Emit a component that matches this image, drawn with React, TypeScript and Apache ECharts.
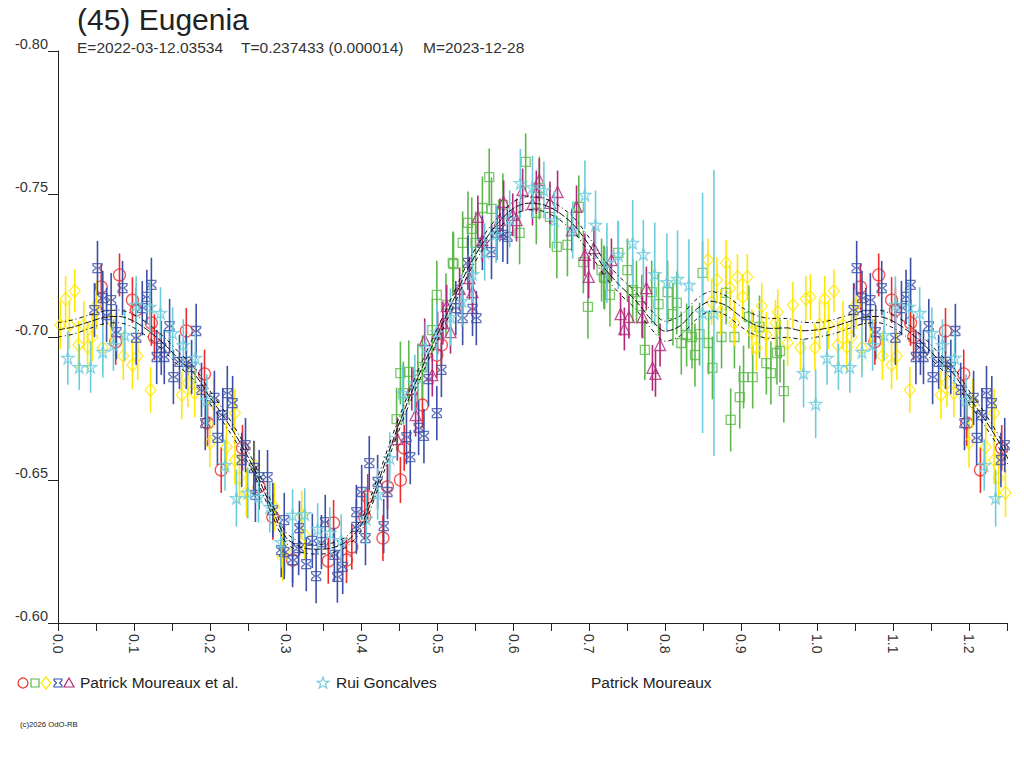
import React, { useEffect, useRef } from "react";
import * as echarts from "echarts";

// ---- data: [phase, magnitude, error] ----
const RED_CIRCLES = [
  [0.057, -0.7175, 0.008], [0.076, -0.6983, 0.008], [0.081, -0.7217, 0.0075], [0.098, -0.7129, 0.008],
  [0.103, -0.7094, 0.008], [0.123, -0.7049, 0.008], [0.127, -0.7, 0.008], [0.169, -0.7021, 0.008],
  [0.193, -0.6871, 0.0085], [0.197, -0.6699, 0.008], [0.215, -0.6535, 0.008], [0.243, -0.6612, 0.008],
  [0.265, -0.6476, 0.008], [0.283, -0.6371, 0.008], [0.309, -0.622, 0.008], [0.356, -0.6217, 0.008],
  [0.363, -0.635, 0.008], [0.38, -0.622, 0.008], [0.387, -0.6266, 0.008], [0.404, -0.6371, 0.008],
  [0.408, -0.6441, 0.008], [0.428, -0.6297, 0.008], [0.434, -0.6476, 0.008], [0.451, -0.65, 0.008],
  [0.456, -0.6612, 0.008], [0.48, -0.6762, 0.008], [0.499, -0.6937, 0.008], [0.505, -0.6972, 0.008],
];

const GREEN_SQUARES = [
  [0.446, -0.6713, 0.011], [0.451, -0.6874, 0.011], [0.455, -0.6804, 0.011], [0.462, -0.6878, 0.011],
  [0.474, -0.6867, 0.011], [0.48, -0.6895, 0.011], [0.493, -0.7024, 0.011], [0.499, -0.7147, 0.012],
  [0.511, -0.7112, 0.011], [0.52, -0.7259, 0.011], [0.521, -0.7255, 0.011], [0.533, -0.7329, 0.011],
  [0.54, -0.7399, 0.011], [0.545, -0.7378, 0.011], [0.55, -0.7329, 0.011], [0.559, -0.7451, 0.011],
  [0.568, -0.7559, 0.01], [0.571, -0.7448, 0.011], [0.586, -0.7462, 0.011], [0.608, -0.7364, 0.011],
  [0.616, -0.7612, 0.01], [0.63, -0.7434, 0.011], [0.634, -0.7521, 0.011], [0.648, -0.742, 0.011],
  [0.657, -0.7315, 0.011], [0.671, -0.7322, 0.011], [0.686, -0.7455, 0.011], [0.692, -0.7262, 0.011],
  [0.698, -0.7105, 0.011], [0.716, -0.7234, 0.011], [0.719, -0.721, 0.011], [0.72, -0.7206, 0.011],
  [0.727, -0.7147, 0.011], [0.738, -0.7294, 0.011], [0.75, -0.7234, 0.011], [0.757, -0.7164, 0.011],
  [0.762, -0.7157, 0.011], [0.769, -0.7108, 0.011], [0.773, -0.6955, 0.0105], [0.782, -0.7157, 0.011],
  [0.791, -0.7115, 0.011], [0.803, -0.7157, 0.011], [0.81, -0.708, 0.011], [0.815, -0.7119, 0.011],
  [0.821, -0.6979, 0.011], [0.828, -0.7007, 0.011], [0.835, -0.7, 0.011], [0.839, -0.6937, 0.011],
  [0.845, -0.701, 0.011], [0.849, -0.7224, 0.011], [0.857, -0.6979, 0.011], [0.862, -0.6892, 0.011],
  [0.874, -0.7, 0.011], [0.88, -0.7154, 0.011], [0.886, -0.671, 0.011], [0.891, -0.7, 0.011],
  [0.898, -0.679, 0.011], [0.903, -0.686, 0.011], [0.91, -0.707, 0.011], [0.915, -0.686, 0.011],
  [0.924, -0.7035, 0.011], [0.933, -0.6909, 0.011], [0.939, -0.6874, 0.011], [0.947, -0.6944, 0.011],
  [0.951, -0.6951, 0.011], [0.956, -0.6811, 0.011],
];

const YELLOW_DIAMONDS = [
  [0.003, -0.7042, 0.0085], [0.01, -0.7133, 0.008], [0.015, -0.7042, 0.0085], [0.022, -0.7161, 0.0075],
  [0.027, -0.6972, 0.0085], [0.034, -0.7042, 0.0085], [0.039, -0.6965, 0.0085], [0.045, -0.7, 0.0085],
  [0.051, -0.7112, 0.0085], [0.059, -0.6962, 0.0085], [0.07, -0.7059, 0.0085], [0.086, -0.6934, 0.0085],
  [0.098, -0.6902, 0.0085], [0.105, -0.6934, 0.0085], [0.122, -0.6815, 0.008], [0.163, -0.6797, 0.0085],
  [0.171, -0.6839, 0.0085], [0.18, -0.6804, 0.0085], [0.2, -0.6629, 0.0085], [0.205, -0.6769, 0.0085],
  [0.222, -0.6615, 0.0085], [0.233, -0.657, 0.0085], [0.233, -0.6734, 0.0085], [0.239, -0.6507, 0.0085],
  [0.248, -0.6455, 0.0085], [0.259, -0.6552, 0.0085], [0.285, -0.6406, 0.0085],
  [0.296, -0.6231, 0.0085], [0.299, -0.6255, 0.0085], [0.321, -0.6378, 0.0085], [0.325, -0.6308, 0.0085],
  [0.856, -0.7269, 0.0075], [0.861, -0.7122, 0.008], [0.868, -0.7199, 0.008], [0.873, -0.7087, 0.008],
  [0.88, -0.7259, 0.008], [0.885, -0.7171, 0.008], [0.891, -0.7049, 0.008], [0.895, -0.721, 0.008],
  [0.902, -0.714, 0.008], [0.908, -0.721, 0.008], [0.914, -0.7017, 0.008], [0.92, -0.6962, 0.008],
  [0.927, -0.7108, 0.008], [0.933, -0.7007, 0.008], [0.945, -0.7049, 0.008], [0.948, -0.7087, 0.008],
  [0.961, -0.6979, 0.008], [0.968, -0.7112, 0.008], [0.978, -0.6962, 0.008], [0.985, -0.7133, 0.008],
  [0.991, -0.714, 0.008], [0.997, -0.6962, 0.008],
];

const BLUE_BOWTIES = [
  [0.048, -0.7094, 0.0095], [0.052, -0.7241, 0.0095], [0.059, -0.7136, 0.0095], [0.064, -0.7077, 0.0095],
  [0.07, -0.7129, 0.0095], [0.077, -0.7017, 0.0095], [0.085, -0.7171, 0.0095], [0.103, -0.6997, 0.0095],
  [0.111, -0.7101, 0.0095], [0.117, -0.714, 0.0095], [0.123, -0.7182, 0.0095], [0.13, -0.693, 0.0095],
  [0.136, -0.6962, 0.0095], [0.14, -0.693, 0.0095], [0.147, -0.7038, 0.0095], [0.152, -0.686, 0.0095],
  [0.16, -0.6913, 0.0095], [0.169, -0.6913, 0.0095], [0.176, -0.6895, 0.0095], [0.182, -0.7021, 0.0095],
  [0.189, -0.6815, 0.0095], [0.194, -0.6699, 0.0095], [0.206, -0.6787, 0.0095], [0.21, -0.6647, 0.0095],
  [0.217, -0.6727, 0.0095], [0.223, -0.6804, 0.0095], [0.23, -0.6769, 0.0095], [0.242, -0.657, 0.0095],
  [0.247, -0.6622, 0.0095], [0.258, -0.6542, 0.0095], [0.26, -0.6448, 0.0095], [0.265, -0.651, 0.0095],
  [0.276, -0.651, 0.0095], [0.283, -0.6395, 0.0095], [0.294, -0.6255, 0.0095], [0.298, -0.636, 0.0095],
  [0.298, -0.6248, 0.0095], [0.309, -0.622, 0.0095], [0.317, -0.6262, 0.0095], [0.318, -0.6332, 0.0095],
  [0.327, -0.6206, 0.0095], [0.335, -0.6287, 0.0095], [0.34, -0.6164, 0.0095], [0.347, -0.6283, 0.0095],
  [0.352, -0.6353, 0.0095], [0.364, -0.6238, 0.0095], [0.368, -0.6161, 0.009], [0.375, -0.6196, 0.0095],
  [0.393, -0.6336, 0.0095], [0.393, -0.6388, 0.0095], [0.4, -0.6458, 0.0095], [0.405, -0.6297, 0.0095],
  [0.41, -0.6559, 0.0095], [0.421, -0.6493, 0.0095], [0.429, -0.6339, 0.0095], [0.434, -0.6458, 0.0095],
  [0.459, -0.665, 0.0095], [0.464, -0.658, 0.0095], [0.475, -0.6682, 0.0095], [0.482, -0.6654, 0.0095],
  [0.488, -0.6853, 0.0095], [0.499, -0.6734, 0.0095], [0.505, -0.6885, 0.0095], [0.524, -0.7101, 0.0095],
  [0.533, -0.7066, 0.0095], [0.54, -0.7259, 0.0095], [0.546, -0.7098, 0.0095], [0.551, -0.7066, 0.0095],
  [0.559, -0.7329, 0.0095], [0.571, -0.7297, 0.0095], [0.578, -0.7364, 0.0095], [0.586, -0.7357, 0.0095],
  [0.592, -0.735, 0.0095],
];

const MAGENTA_TRIANGLES = [
  [0.447, -0.6643, 0.0075], [0.466, -0.6818, 0.0075], [0.471, -0.6727, 0.0075], [0.483, -0.699, 0.0075],
  [0.493, -0.6867, 0.0075], [0.5, -0.7014, 0.0075], [0.507, -0.7049, 0.0075], [0.512, -0.7108, 0.0075],
  [0.517, -0.7017, 0.0075], [0.529, -0.7168, 0.0075], [0.542, -0.7206, 0.0075], [0.546, -0.7157, 0.0075],
  [0.553, -0.742, 0.0075], [0.559, -0.7339, 0.0075], [0.582, -0.7409, 0.0075], [0.587, -0.7472, 0.0075],
  [0.599, -0.7427, 0.0075], [0.604, -0.7409, 0.0075], [0.612, -0.7514, 0.0075], [0.625, -0.7465, 0.0075],
  [0.63, -0.7507, 0.0075], [0.634, -0.7549, 0.0075], [0.648, -0.7469, 0.0075], [0.658, -0.7507, 0.0075],
  [0.677, -0.7374, 0.0075], [0.683, -0.7455, 0.0075], [0.694, -0.7287, 0.0075], [0.699, -0.721, 0.0075],
  [0.706, -0.7311, 0.0075], [0.723, -0.7241, 0.0075], [0.729, -0.7269, 0.0075], [0.741, -0.708, 0.0075],
  [0.746, -0.7028, 0.0075], [0.752, -0.707, 0.0075], [0.77, -0.707, 0.0075], [0.775, -0.7171, 0.0075],
  [0.783, -0.6892, 0.008], [0.787, -0.6871, 0.008], [0.793, -0.6972, 0.0075],
];

const CYAN_STARS = [
  [0.013, -0.6927, 0.0094], [0.028, -0.6895, 0.008], [0.043, -0.6895, 0.009], [0.059, -0.6948, 0.009],
  [0.073, -0.6972, 0.009], [0.088, -0.7007, 0.009], [0.103, -0.7112, 0.01], [0.121, -0.7105, 0.009],
  [0.135, -0.7084, 0.009], [0.151, -0.7014, 0.009], [0.165, -0.6972, 0.009], [0.181, -0.6927, 0.009],
  [0.196, -0.678, 0.009], [0.22, -0.6552, 0.009], [0.235, -0.6437, 0.01], [0.25, -0.6455, 0.009],
  [0.264, -0.6441, 0.009], [0.279, -0.6406, 0.009], [0.294, -0.6283, 0.009], [0.309, -0.6378, 0.009],
  [0.325, -0.6381, 0.009], [0.342, -0.6329, 0.009], [0.358, -0.6315, 0.009], [0.373, -0.629, 0.009],
  [0.406, -0.6364, 0.009], [0.421, -0.6451, 0.009], [0.437, -0.6577, 0.009], [0.454, -0.6804, 0.01],
  [0.47, -0.6839, 0.01], [0.484, -0.6962, 0.009], [0.499, -0.7017, 0.01], [0.517, -0.707, 0.01],
  [0.532, -0.7126, 0.009], [0.546, -0.722, 0.01], [0.562, -0.7297, 0.01], [0.577, -0.736, 0.01],
  [0.595, -0.7413, 0.01], [0.609, -0.7538, 0.012], [0.625, -0.7524, 0.011], [0.64, -0.7514, 0.01],
  [0.654, -0.7409, 0.01], [0.678, -0.7374, 0.01], [0.694, -0.7497, 0.012], [0.708, -0.7392, 0.012],
  [0.723, -0.7259, 0.014], [0.738, -0.7287, 0.012], [0.757, -0.7329, 0.015], [0.771, -0.729, 0.012],
  [0.786, -0.722, 0.018], [0.802, -0.7192, 0.017], [0.816, -0.7203, 0.017], [0.831, -0.7182, 0.016],
  [0.849, -0.7084, 0.042], [0.864, -0.7084, 0.05], [0.982, -0.6874, 0.012], [0.998, -0.6766, 0.012],
];

// fitted curve
const CURVE_PHASE = [
  0.0, 0.02, 0.04, 0.06, 0.08, 0.1, 0.12, 0.14, 0.16, 0.18, 0.2, 0.22, 0.24, 0.26, 0.28, 0.3, 0.32, 0.34,
  0.36, 0.38, 0.4, 0.42, 0.44, 0.46, 0.48, 0.5, 0.52, 0.54, 0.56, 0.58, 0.6, 0.62, 0.64, 0.66, 0.68, 0.7,
  0.72, 0.74, 0.76, 0.78, 0.8, 0.82, 0.84, 0.86, 0.88, 0.9, 0.92, 0.94, 0.96, 0.98, 1.0,
];
const CURVE_MAG = [
  -0.7025, -0.7035, -0.7052, -0.7068, -0.7072, -0.7055, -0.702, -0.6975, -0.692, -0.687, -0.679, -0.6715,
  -0.663, -0.653, -0.641, -0.63, -0.6265, -0.6258, -0.6262, -0.6285, -0.6345, -0.648, -0.663, -0.677,
  -0.6895, -0.701, -0.7125, -0.724, -0.733, -0.74, -0.745, -0.7468, -0.7462, -0.7435, -0.739, -0.732,
  -0.724, -0.718, -0.713, -0.7065, -0.702, -0.704, -0.7095, -0.7125, -0.711, -0.707, -0.704, -0.703,
  -0.7032, -0.7022, -0.7025,
];
const CURVE_ERR = [
  0.0025, 0.0025, 0.0024, 0.0022, 0.0022, 0.0023, 0.0024, 0.0024, 0.0024, 0.0023, 0.0022, 0.0022,
  0.0021, 0.002, 0.002, 0.0018, 0.0017, 0.0017, 0.0017, 0.0018, 0.002, 0.0021, 0.0022, 0.0022,
  0.0022, 0.0022, 0.0022, 0.0022, 0.0022, 0.0022, 0.0023, 0.0023, 0.0023, 0.0024, 0.0025, 0.0026,
  0.0027, 0.0029, 0.003, 0.0032, 0.0035, 0.0035, 0.0035, 0.0034, 0.0034, 0.0035, 0.0035, 0.0035,
  0.0033, 0.003, 0.0025,
];

const Y_MIN = -0.8;
const Y_MAX = -0.6;
const X_MAX = 1.25;

const OBSERVER_1 = "Patrick Moureaux et al.";
const OBSERVER_2 = "Rui Goncalves";
const OBSERVER_3 = "Patrick Moureaux";

const C_RED = "#ef2b2b";
const C_GREEN = "#5cb84a";
const C_YELLOW = "#ffe800";
const C_BLUE = "#3b4fa8";
const C_MAGENTA = "#b0287a";
const C_CYAN = "#6ccbdc";

const STAR = "path://M5,0 L6.2,3.6 L10,3.6 L6.9,5.8 L8.1,9.5 L5,7.2 L1.9,9.5 L3.1,5.8 L0,3.6 L3.8,3.6 Z";
const BOWTIE = "path://M0,0 L10,0 L10,2 L6.5,5 L10,8 L10,10 L0,10 L0,8 L3.5,5 L0,2 Z";

const FONT = "Liberation Sans, Arial, sans-serif";

function wrapPhase(arr: number[][]) {
  return arr.concat(arr.filter((d) => d[0] < X_MAX - 1).map((d) => [d[0] + 1, d[1], d[2]]));
}

function curveSeries(offset: number) {
  const pts: number[][] = CURVE_PHASE.map((p, i) => [p, CURVE_MAG[i] + offset * CURVE_ERR[i]]);
  CURVE_PHASE.forEach((p, i) => {
    if (p > 0 && p <= 0.26) pts.push([p + 1, CURVE_MAG[i] + offset * CURVE_ERR[i]]);
  });
  return pts;
}

export default function App() {
  const ref = useRef<HTMLDivElement>(null);

  useEffect(() => {
    if (!ref.current) return;
    const chart = echarts.init(ref.current, null, { renderer: "svg" });

    const groups = [
      { name: "red", data: RED_CIRCLES, color: C_RED, symbol: "circle", size: 12 },
      { name: "green", data: GREEN_SQUARES, color: C_GREEN, symbol: "rect", size: 9 },
      { name: "yellow", data: YELLOW_DIAMONDS, color: C_YELLOW, symbol: "diamond", size: [11, 13] },
      { name: "blue", data: BLUE_BOWTIES, color: C_BLUE, symbol: BOWTIE, size: 9 },
      { name: "magenta", data: MAGENTA_TRIANGLES, color: C_MAGENTA, symbol: "triangle", size: 11 },
      { name: "cyan", data: CYAN_STARS, color: C_CYAN, symbol: STAR, size: 12 },
    ];

    const series: any[] = [];
    groups.forEach((g, gi) => {
      const d = wrapPhase(g.data);
      series.push({
        type: "custom",
        name: g.name + "-err",
        data: d,
        encode: { x: 0, y: 1 },
        clip: true,
        z: 2 + gi * 2,
        silent: true,
        renderItem: (params: any, api: any) => {
          const x = api.value(0);
          const y = api.value(1);
          const e = api.value(2);
          const p1 = api.coord([x, y - e]);
          const p2 = api.coord([x, y + e]);
          return {
            type: "line",
            shape: { x1: p1[0], y1: p1[1], x2: p2[0], y2: p2[1] },
            style: { stroke: g.color, lineWidth: 1.6 },
          };
        },
      });
      series.push({
        type: "scatter",
        name: g.name,
        data: d.map((v) => [v[0], v[1]]),
        symbol: g.symbol,
        symbolSize: g.size,
        z: 3 + gi * 2,
        silent: true,
        itemStyle: { color: "rgba(0,0,0,0)", borderColor: g.color, borderWidth: 1.3 },
      });
    });

    [
      { off: 0, type: [7, 2] },
      { off: -1, type: [4, 3, 1, 3] },
      { off: 1, type: [4, 3, 1, 3] },
    ].forEach((c) => {
      series.push({
        type: "line",
        data: curveSeries(c.off),
        showSymbol: false,
        smooth: 0.3,
        clip: true,
        z: 20,
        silent: true,
        lineStyle: { color: "#111", width: 1, type: c.type },
      });
    });

    const legendY = 683;
    const legendText = { fontSize: 15.5, fontFamily: FONT, fill: "#222", verticalAlign: "top" };

    chart.setOption({
      animation: false,
      backgroundColor: "#fff",
      grid: { left: 58, right: 17, top: 51, bottom: 145, containLabel: false },
      xAxis: {
        type: "value",
        min: 0,
        max: X_MAX,
        interval: 0.05,
        axisLine: { lineStyle: { color: "#222", width: 1 } },
        axisTick: { length: 8, lineStyle: { color: "#222" } },
        splitLine: { show: false },
        axisLabel: {
          rotate: -90,
          margin: 11,
          fontSize: 14,
          fontFamily: FONT,
          color: "#333",
          padding: [0, 0, 9, 0],
          formatter: (v: number) => (Math.round(v * 100) % 10 === 0 ? v.toFixed(1) : ""),
        },
      },
      yAxis: {
        type: "value",
        min: Y_MIN,
        max: Y_MAX,
        interval: 0.05,
        inverse: true,
        axisLine: { show: true, lineStyle: { color: "#222", width: 1 } },
        axisTick: { show: true, length: 10, lineStyle: { color: "#222" } },
        splitLine: { show: false },
        axisLabel: {
          margin: 10,
          fontSize: 14.5,
          fontFamily: FONT,
          color: "#333",
          verticalAlign: "bottom",
          formatter: (v: number) => v.toFixed(2),
        },
      },
      graphic: [
        { type: "text", left: 77, top: 4, style: { text: "(45) Eugenia", fontSize: 30, fontFamily: FONT, fill: "#222" } },
        { type: "text", left: 77, top: 39, style: { text: "E=2022-03-12.03534", fontSize: 15.5, fontFamily: FONT, fill: "#333" } },
        { type: "text", left: 241, top: 39, style: { text: "T=0.237433 (0.000014)", fontSize: 15.5, fontFamily: FONT, fill: "#333" } },
        { type: "text", left: 423, top: 39, style: { text: "M=2023-12-28", fontSize: 15.5, fontFamily: FONT, fill: "#333" } },
        { type: "circle", shape: { cx: 23, cy: legendY, r: 5 }, style: { fill: "none", stroke: C_RED, lineWidth: 1.2 } },
        { type: "rect", shape: { x: 31, y: legendY - 4, width: 8, height: 8 }, style: { fill: "none", stroke: C_GREEN, lineWidth: 1.2 } },
        { type: "polygon", shape: { points: [[46, legendY - 6], [51, legendY], [46, legendY + 6], [41, legendY]] }, style: { fill: "none", stroke: C_YELLOW, lineWidth: 1.2 } },
        { type: "polygon", shape: { points: [[54, legendY - 4], [62, legendY - 4], [62, legendY - 2.5], [59.5, legendY], [62, legendY + 2.5], [62, legendY + 4], [54, legendY + 4], [54, legendY + 2.5], [56.5, legendY], [54, legendY - 2.5]] }, style: { fill: "none", stroke: C_BLUE, lineWidth: 1.1 } },
        { type: "polygon", shape: { points: [[69, legendY - 5], [74, legendY + 4], [64, legendY + 4]] }, style: { fill: "none", stroke: C_MAGENTA, lineWidth: 1.2 } },
        { type: "text", left: 80, top: legendY - 9, style: { ...legendText, text: OBSERVER_1 } },
        { type: "polygon", shape: { points: [[323, legendY - 6], [324.5, legendY - 1.8], [329, legendY - 1.8], [325.4, legendY + 0.9], [326.8, legendY + 5.2], [323, legendY + 2.6], [319.2, legendY + 5.2], [320.6, legendY + 0.9], [317, legendY - 1.8], [321.5, legendY - 1.8]] }, style: { fill: "none", stroke: C_CYAN, lineWidth: 1.1 } },
        { type: "text", left: 336, top: legendY - 9, style: { ...legendText, text: OBSERVER_2 } },
        { type: "text", left: 591, top: legendY - 9, style: { ...legendText, text: OBSERVER_3 } },
        { type: "text", left: 20, top: 720, style: { text: "(c)2026 OdO-RB", fontSize: 7.7, fontFamily: FONT, fill: "#222" } },
      ],
      series,
    });

    return () => chart.dispose();
  }, []);

  return (
    <div
      ref={ref}
      style={{ position: "absolute", left: 0, top: 0, width: 1024, height: 768, background: "#fff" }}
    />
  );
}
